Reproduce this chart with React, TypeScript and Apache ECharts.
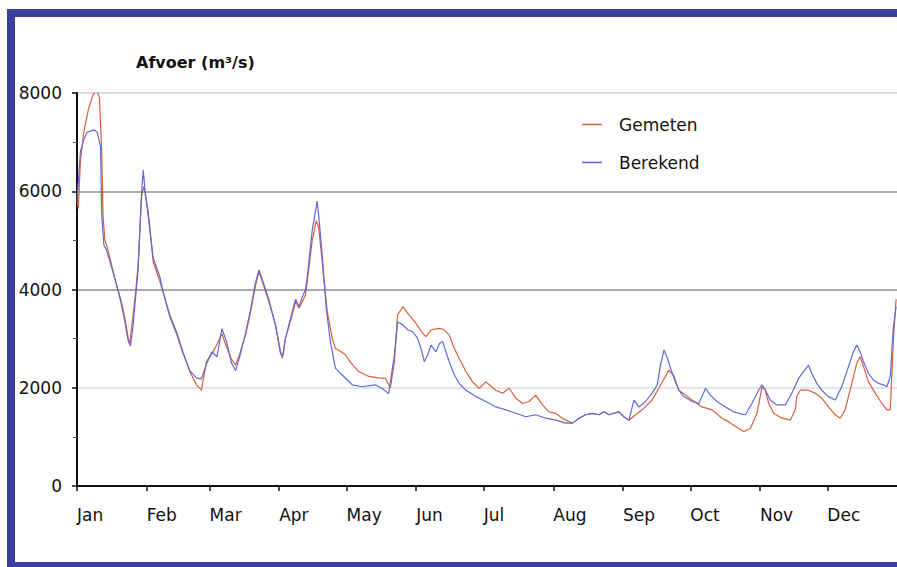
import React, { useEffect, useRef } from "react";
import * as echarts from "echarts";

const monthStarts = [0, 31, 59, 90, 120, 151, 181, 212, 243, 273, 304, 334];
const monthNames = ["Jan", "Feb", "Mar", "Apr", "May", "Jun", "Jul", "Aug", "Sep", "Oct", "Nov", "Dec"];
const yTicks = [0, 2000, 4000, 6000, 8000];

// [day of year, discharge m3/s]
const gemeten = [
  [0, 5800], [0.6, 5650], [1.5, 6600], [3, 7200], [5, 7650], [7, 7950], [8.7, 8060], [10, 7900], [11, 6800],
  [11.6, 5500], [12.4, 5000], [13.2, 4900], [15.4, 4500], [17.6, 4090], [19.5, 3800], [21.3, 3420], [22.8, 3010],
  [23.5, 2900], [24.3, 3220], [26, 3900], [27.2, 4500], [28, 5250], [28.7, 5900], [29.8, 6100], [30.5, 5900],
  [31.7, 5580], [33.9, 4570], [36.9, 4160], [38.3, 3950], [41.3, 3480], [44.3, 3140], [47.2, 2730], [50.2, 2330],
  [53.2, 2060], [55.4, 1950], [57.6, 2530], [60.6, 2730], [62.5, 2900], [64.5, 3100], [66, 2900], [68.5, 2600],
  [70.6, 2460], [72.5, 2700], [75, 3070], [77.3, 3550], [79.5, 4090], [81, 4360], [82.5, 4160], [85.4, 3750],
  [88.4, 3280], [90.6, 2730], [91.4, 2600], [92.8, 3010], [95.8, 3480], [97.3, 3750], [98.8, 3620], [100.3, 3750],
  [101.7, 3890], [102.5, 4160], [104.7, 5000], [106.5, 5400], [107.6, 5250], [109, 4640], [109.8, 4230],
  [111.4, 3550], [113.6, 3010], [115, 2800], [117, 2750], [119.5, 2670], [122, 2500], [125.4, 2330], [129.9, 2230],
  [134, 2200], [137.3, 2190], [139.5, 2000], [141.3, 2530], [142.7, 3480], [145, 3650], [147.9, 3480],
  [150.9, 3310], [153.8, 3110], [155.4, 3040], [157.6, 3180], [161.3, 3210], [163.5, 3180], [165.7, 3070],
  [168, 2800], [170.1, 2600], [173.1, 2330], [176.1, 2120], [179, 1990], [182, 2120], [183.5, 2060], [186.4, 1950],
  [189.4, 1890], [192.4, 1990], [195.3, 1790], [198.3, 1680], [201.2, 1720], [204.2, 1850], [207.2, 1650],
  [210.1, 1510], [213.1, 1480], [216, 1380], [219, 1310], [220.5, 1280], [223.5, 1380], [226.4, 1450],
  [229.4, 1480], [232.3, 1450], [234.6, 1510], [236.8, 1450], [239, 1480], [241.2, 1510], [243.4, 1410],
  [245.7, 1340], [248.6, 1450], [251.6, 1550], [256, 1750], [259, 1990], [261.9, 2230], [263.4, 2360],
  [265.8, 2230], [267.9, 1950], [270.9, 1850], [273.8, 1750], [278.2, 1610], [282.7, 1550], [287.1, 1380],
  [290, 1310], [293.1, 1210], [296.8, 1110], [299.7, 1170], [302.7, 1480], [304.9, 2020], [306.4, 1950],
  [307.9, 1680], [310.1, 1480], [313.8, 1380], [317.5, 1340], [319.7, 1550], [320.4, 1820], [321.9, 1950],
  [325.6, 1950], [328.6, 1890], [331.5, 1790], [334.5, 1610], [337.5, 1450], [339.7, 1380], [341.9, 1550],
  [344.9, 2090], [347.1, 2500], [348.6, 2630], [350.1, 2430], [352.3, 2120], [355.3, 1890], [358.3, 1680],
  [360.5, 1550], [362, 1550], [363.4, 2970], [364.6, 3800],
];

const berekend = [
  [0, 5800], [1.5, 6800], [3, 7050], [4.5, 7200], [7.5, 7250], [9, 7200], [10.5, 6900], [11, 5500], [12, 4900],
  [13.2, 4800], [15.4, 4450], [17.6, 4100], [19.5, 3750], [21.3, 3350], [22.8, 2950], [23.8, 2850], [24.8, 3200],
  [26, 3800], [27.2, 4400], [28, 5200], [28.8, 6000], [29.5, 6430], [30.3, 6000], [31.7, 5500], [33.9, 4650],
  [36.9, 4250], [38.3, 3950], [41.3, 3450], [44.3, 3100], [47.2, 2700], [50.2, 2350], [53.2, 2200], [55.4, 2180],
  [57.6, 2480], [60, 2730], [62.3, 2630], [64.5, 3200], [66.5, 2950], [68.8, 2500], [70.6, 2350], [72.5, 2650],
  [75, 3100], [77.3, 3600], [79.5, 4150], [81, 4400], [82.5, 4200], [85.4, 3800], [88.4, 3250], [90.6, 2700],
  [91.6, 2650], [92.8, 3000], [95.8, 3550], [97.3, 3800], [98.8, 3650], [100.3, 3850], [101.7, 4000],
  [102.5, 4250], [104.7, 5200], [106.9, 5800], [108, 5300], [109.5, 4500], [111, 3600], [112.8, 2940],
  [115, 2400], [118, 2260], [122.5, 2060], [127, 2020], [132.8, 2060], [136, 1980], [138.7, 1880], [141.3, 2670],
  [142.7, 3340], [145, 3280], [147.2, 3180], [149.4, 3140], [151.6, 3010], [153.1, 2800], [154.6, 2530],
  [156.1, 2670], [157.6, 2870], [159.8, 2730], [161.3, 2900], [162.8, 2940], [164.2, 2730], [165.7, 2530],
  [168, 2260], [170.1, 2090], [173.1, 1950], [177.6, 1820], [182, 1720], [186.4, 1610], [190.9, 1550],
  [195.3, 1480], [199.8, 1410], [204.2, 1450], [208.6, 1380], [213.1, 1340], [217.6, 1280], [220.5, 1280],
  [223.5, 1380], [226.4, 1450], [229.4, 1480], [232.3, 1450], [234.6, 1510], [236.8, 1450], [239, 1480],
  [241.2, 1510], [243.4, 1410], [245.7, 1340], [247.9, 1750], [250.1, 1610], [253.1, 1720], [256, 1890],
  [258.3, 2060], [259.7, 2460], [261.3, 2770], [262.8, 2600], [264.2, 2400], [265.8, 2190], [267.9, 1950],
  [270.1, 1820], [273.8, 1720], [276.8, 1680], [279.8, 1990], [281.9, 1850], [284.9, 1720], [288.6, 1610],
  [292.3, 1510], [294.5, 1480], [297.5, 1450], [300.4, 1680], [303.4, 1950], [304.9, 2060], [306.4, 1950],
  [308.6, 1750], [311.5, 1650], [315.3, 1650], [318.2, 1890], [321.2, 2190], [323.4, 2330], [325.6, 2460],
  [327.1, 2290], [329.3, 2090], [331.5, 1950], [334.5, 1820], [337.5, 1750], [340.4, 2020], [343.4, 2430],
  [345.6, 2730], [347.1, 2870], [348.6, 2730], [350.1, 2530], [352.3, 2290], [354.5, 2160], [356.7, 2090],
  [359, 2060], [360.5, 2020], [362, 2230], [363.4, 3240], [364.6, 3650],
];

const FONT = "DejaVu Sans";
const FRAME = "#3b3f9f";

export default function App() {
  const ref = useRef<HTMLDivElement>(null);
  useEffect(() => {
    if (!ref.current) return;
    const chart = echarts.init(ref.current, null, { renderer: "svg" });
    chart.setOption({
      animation: false,
      backgroundColor: "#ffffff",
      title: {
        text: "Afvoer (m³/s)",
        left: 136,
        top: 54,
        padding: 0,
        textStyle: { fontFamily: FONT, fontWeight: "bold", fontSize: 16, color: "#111" },
      },
      legend: {
        orient: "vertical",
        left: 582,
        top: 116,
        icon: "rect",
        itemWidth: 20,
        itemHeight: 1.5,
        itemGap: 21,
        padding: 0,
        data: ["Gemeten", "Berekend"],
        textStyle: { fontFamily: FONT, fontSize: 17, color: "#111", padding: [0, 0, 0, 12] },
      },
      grid: { left: 77, top: 93, right: -2, bottom: 81 },
      xAxis: {
        type: "value",
        min: 0,
        max: 365,
        splitLine: { show: false },
        axisLine: { show: true, lineStyle: { color: "#111", width: 2 } },
        axisTick: { show: true, customValues: monthStarts, length: 5, lineStyle: { color: "#111", width: 1.5 } },
        axisLabel: {
          customValues: monthStarts,
          formatter: (v: number) => monthNames[monthStarts.indexOf(Math.round(v))] ?? "",
          align: "left",
          margin: 20,
          fontFamily: FONT,
          fontSize: 17,
          color: "#111",
          showMinLabel: true,
          showMaxLabel: true,
        },
      },
      yAxis: {
        type: "value",
        min: yTicks[0],
        max: yTicks[yTicks.length - 1],
        interval: 2000,
        axisLine: { show: true, lineStyle: { color: "#111", width: 2 } },
        axisTick: { show: true, length: 5, lineStyle: { color: "#111", width: 1.5 } },
        minorTick: { show: true, splitNumber: 2, length: 4, lineStyle: { color: "#555", width: 1 } },
        axisLabel: {
          margin: 15,
          fontFamily: FONT,
          fontSize: 17,
          color: "#111",
          formatter: (v: number) => String(v),
        },
        splitLine: {
          show: true,
          lineStyle: { color: ["#000", "#dcdcdc", "#8e8e8e", "#8e8e8e", "#d0d0d0"], width: 1.5 },
        },
      },
      graphic: [
        { type: "rect", silent: true, shape: { x: 7, y: 9, width: 8, height: 558 }, style: { fill: FRAME } },
        { type: "rect", silent: true, shape: { x: 7, y: 9, width: 890, height: 8 }, style: { fill: FRAME } },
        { type: "rect", silent: true, shape: { x: 7, y: 562, width: 890, height: 5 }, style: { fill: FRAME } },
      ],
      series: [
        {
          name: "Gemeten",
          type: "line",
          data: gemeten,
          symbol: "none",
          lineStyle: { color: "#d8603c", width: 1.2 },
          itemStyle: { color: "#d8603c" },
        },
        {
          name: "Berekend",
          type: "line",
          data: berekend,
          symbol: "none",
          lineStyle: { color: "#6068d8", width: 1.2 },
          itemStyle: { color: "#6068d8" },
        },
      ],
    });
    return () => chart.dispose();
  }, []);
  return (
    <div
      ref={ref}
      style={{ position: "fixed", left: 0, top: 0, width: 897, height: 567, background: "#fff" }}
    />
  );
}
